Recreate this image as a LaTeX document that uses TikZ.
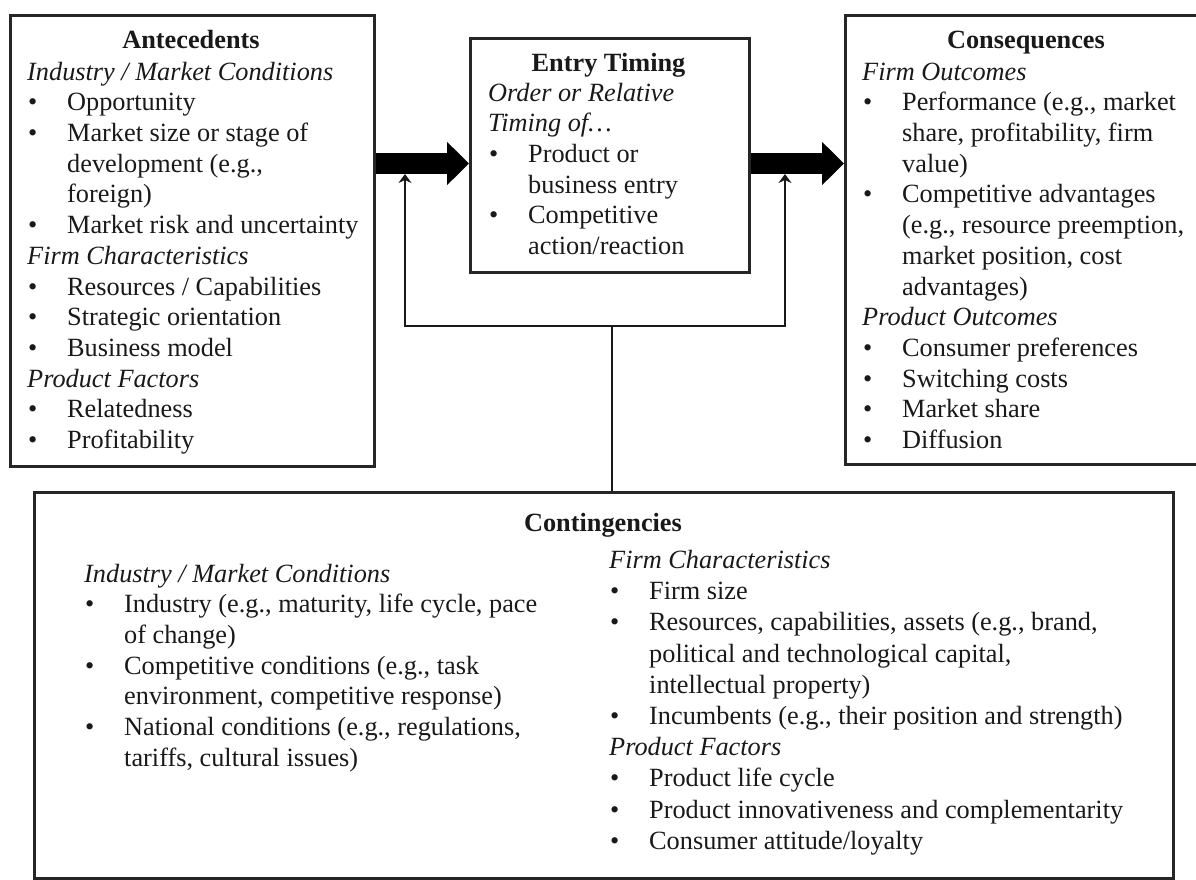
\documentclass[tikz,border=0pt]{standalone}
\usepackage{fontspec}
\setmainfont{Liberation Serif}
\usetikzlibrary{arrows.meta}

% text metrics shared by every box
\newlength\bulletwd \setlength\bulletwd{40pt}
\newcommand\fs{\fontsize{26.3}{30.7}\selectfont}
\newcommand\fsw{\fontsize{26.3}{31.2}\selectfont}
\newcommand\bul{\strut\makebox[\bulletwd][l]{\hspace{1pt}\textbullet}}
\newcommand\cnt{\strut\hspace*{\bulletwd}}
\newcommand\subhead[1]{\strut\textit{#1}}

\begin{document}
\begin{tikzpicture}[x=1pt,y=-1pt,
  frame/.style={draw=black!85, line width=2.8pt, rectangle, inner sep=0pt, anchor=north west},
  heading/.style={font=\fs\bfseries, text=black!90, anchor=base, inner sep=0pt},
  body/.style={font=\fs, text=black!90, align=left, anchor=north west, inner sep=0pt},
  bigarrow/.style={draw=black, line width=21pt, -{Triangle[length=22pt,width=42pt]}},
  feedback/.style={draw=black!90, line width=2.7pt},
  fbtip/.tip={Stealth[length=9pt,width=13pt,inset=3pt]}]
\useasboundingbox (0,0) rectangle (1196,880);

% the four boxes
\node[frame, minimum width=364pt, minimum height=451pt] (ante) at (9,14) {};
\node[frame, minimum width=279pt, minimum height=234pt] (entry) at (469,37) {};
\node[frame, minimum width=364pt, minimum height=449pt] (cons) at (844,14) {};
\node[frame, minimum width=1139pt, minimum height=386pt] (cont) at (33,491) {};

% Antecedents
\node[heading] (anteT) at (191,49) {Antecedents};
\node[body] (anteB) at (27,58.5) {%
\subhead{Industry / Market Conditions}\\
\bul Opportunity\\
\bul Market size or stage of\\
\cnt development (e.g.,\\
\cnt foreign)\\
\bul Market risk and uncertainty\\
\subhead{Firm Characteristics}\\
\bul Resources / Capabilities\\
\bul Strategic orientation\\
\bul Business model\\
\subhead{Product Factors}\\
\bul Relatedness\\
\bul Profitability};

% Entry Timing
\node[heading] (entryT) at (608.5,72) {Entry Timing};
\node[body] (entryB) at (488,79.5) {%
\subhead{Order or Relative}\\
\subhead{Timing of…}\\
\bul Product or\\
\cnt business entry\\
\bul Competitive\\
\cnt action/reaction};

% Consequences
\node[heading] (consT) at (1026,49) {Consequences};
\node[body] (consB) at (862,58.5) {%
\subhead{Firm Outcomes}\\
\bul Performance (e.g., market\\
\cnt share, profitability, firm\\
\cnt value)\\
\bul Competitive advantages\\
\cnt (e.g., resource preemption,\\
\cnt market position, cost\\
\cnt advantages)\\
\subhead{Product Outcomes}\\
\bul Consumer preferences\\
\bul Switching costs\\
\bul Market share\\
\bul Diffusion};

% Contingencies
\node[heading] (contT) at (603,531) {Contingencies};
\node[body] (contL) at (84,560.5) {%
\subhead{Industry / Market Conditions}\\
\bul Industry (e.g., maturity, life cycle, pace\\
\cnt of change)\\
\bul Competitive conditions (e.g., task\\
\cnt environment, competitive response)\\
\bul National conditions (e.g., regulations,\\
\cnt tariffs, cultural issues)};
\node[body, font=\fsw] (contR) at (609,546.5) {%
\subhead{Firm Characteristics}\\
\bul Firm size\\
\bul Resources, capabilities, assets (e.g., brand,\\
\cnt political and technological capital,\\
\cnt intellectual property)\\
\bul Incumbents (e.g., their position and strength)\\
\subhead{Product Factors}\\
\bul Product life cycle\\
\bul Product innovativeness and complementarity\\
\bul Consumer attitude/loyalty};

% main flow
\coordinate (axis) at (0,163.5);
\draw[bigarrow] (ante.east |- axis) -- (entry.west |- axis);
\draw[bigarrow] (entry.east |- axis) -- (cons.west |- axis);

% moderating links from the contingencies
\coordinate (hub) at (612,326);
\coordinate (fbL) at (405,174);
\coordinate (fbR) at (785,174);
\draw[feedback] (cont.north -| hub) -- (hub);
\draw[feedback, fbtip-fbtip] (fbL) -- (fbL |- hub) -- (fbR |- hub) -- (fbR);
\end{tikzpicture}
\end{document}
